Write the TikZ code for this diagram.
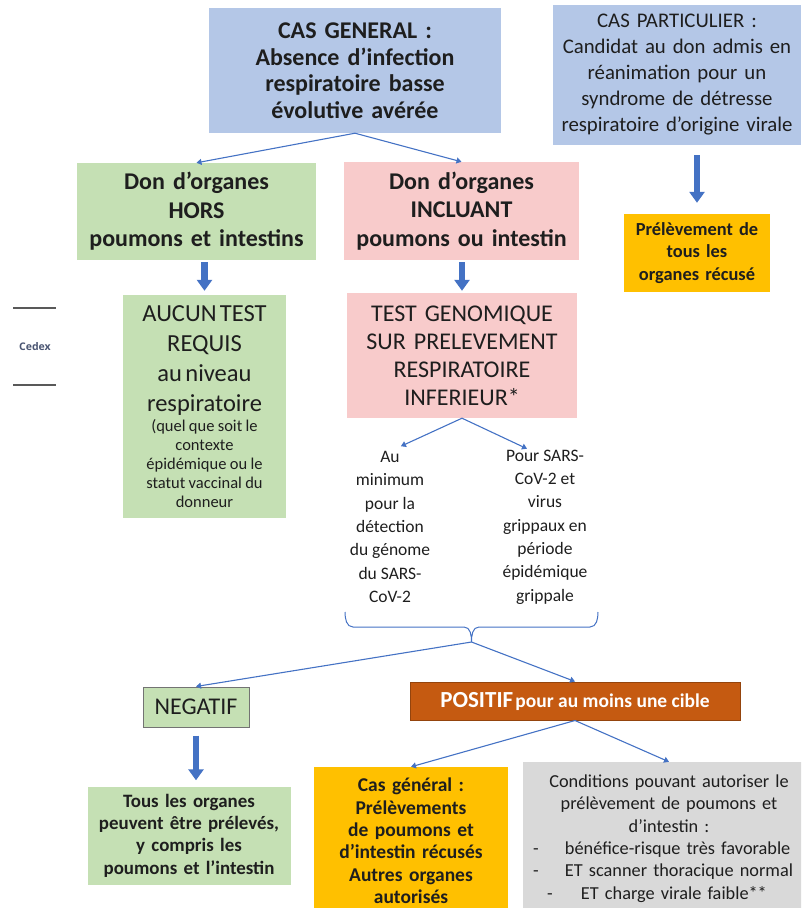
\documentclass[tikz,border=0pt]{standalone}
\usepackage{fontspec}
\setmainfont{Carlito}
\newfontfamily\cedexfont{Open Sans}
\usetikzlibrary{arrows.meta}
\definecolor{boxblue}{HTML}{B4C7E7}
\definecolor{boxgreen}{HTML}{C5E0B4}
\definecolor{boxpink}{HTML}{F8CBCB}
\definecolor{boxorange}{HTML}{FFC000}
\definecolor{boxgray}{HTML}{D9D9D9}
\definecolor{boxrust}{HTML}{C55A11}
\definecolor{linkblue}{HTML}{4472C4}
\definecolor{inkdark}{HTML}{1E1E1E}
\definecolor{cedexblue}{HTML}{4B5673}
\newcommand{\fsz}[2]{\fontsize{#1}{#2}\selectfont}

\begin{document}
\begin{tikzpicture}[x=1pt, y=-1pt,
    box/.style={rectangle, inner sep=0pt, align=center, text=inkdark},
    link/.style={linkblue, line width=1.1pt, -{Triangle[width=6pt,length=5pt]}},
    bigarrow/.style={linkblue, line width=6.5pt, -{Triangle[width=15pt,length=11pt]}}]
    \path[use as bounding box, clip] (0,0) rectangle (801,908);

    % top row
    \node[box, fill=boxblue, minimum width=292, minimum height=125, text width=292,
        font=\bfseries\fsz{24}{26.5}] at (355,70.5) (general)
        {CAS GENERAL :\\ Absence d’infection\\ respiratoire basse\\ évolutive avérée};
    \node[box, fill=boxblue, minimum width=248, minimum height=140, text width=248,
        font=\fsz{20.8}{26}] at (677,75) (partic)
        {CAS PARTICULIER :\\ Candidat au don admis en\\ réanimation pour un\\ syndrome de détresse\\ respiratoire d’origine virale};

    % second row
    \node[box, fill=boxgreen, minimum width=239, minimum height=97, text width=239,
        font=\bfseries\fsz{24}{28.5}] at (196.5,211.5) (hors)
        {Don d’organes\\ HORS\\ poumons et intestins};
    \node[box, fill=boxpink, minimum width=235, minimum height=98, text width=235,
        font=\bfseries\fsz{24}{28.5}] at (461.5,211) (incl)
        {Don d’organes\\ INCLUANT\\ poumons ou intestin};
    \node[box, fill=boxorange, minimum width=146, minimum height=78, text width=146,
        font=\bfseries\fsz{18.4}{22.5}] at (697,253) (recuse)
        {Prélèvement de\\ tous les\\ organes récusé};

    % tests
    \node[box, fill=boxgreen, minimum width=163, minimum height=223, text width=163] at (204.5,406.5) (aucun)
        {{\fsz{24.5}{30}AUCUN TEST\\ REQUIS\\ au niveau\\ respiratoire\par}\vspace{1pt}%
         {\fsz{16.5}{19}(quel que soit le\\ contexte\\ épidémique ou le\\ statut vaccinal du\\ donneur\par}};
    \node[box, fill=boxpink, minimum width=230, minimum height=125, text width=230,
        font=\fsz{24}{28}] at (462,355.5) (genom)
        {TEST GENOMIQUE\\ SUR PRELEVEMENT\\ RESPIRATOIRE\\ INFERIEUR*};
    \node[box, font=\fsz{17.5}{23.3}] at (390,527) (mini)
        {Au\\ minimum\\ pour la\\ détection\\ du génome\\ du SARS-\\ CoV-2};
    \node[box, font=\fsz{17.5}{23.3}] at (545,527) (grip)
        {Pour SARS-\\ CoV-2 et\\ virus\\ grippaux en\\ période\\ épidémique\\ grippale};

    % brace under the two targets
    \draw[linkblue, line width=1pt]
        (345,612) to[out=-90, in=180] (353,627) -- (464,627) to[out=0, in=90] (471.5,642)
        to[out=90, in=180] (479,627) -- (590,627) to[out=0, in=-90] (598,612);
    \coordinate (bracetip) at (471.5,642);

    % results
    \node[box, fill=boxgreen, draw=black!55, line width=1pt, minimum width=106, minimum height=40,
        font=\fsz{24}{26}] at (196,707) (neg) {NEGATIF};
    \node[box, fill=boxrust, draw=boxrust!75!black, line width=1pt, minimum width=330, minimum height=38,
        text=white, font=\bfseries] at (575,701) (pos)
        {{\fsz{23}{24}POSITIF} {\fsz{19.5}{22}pour au moins une cible}};

    \node[box, fill=boxgreen, minimum width=203, minimum height=98, text width=203,
        font=\bfseries\fsz{18.9}{22.3}] at (189,835.5) (tous)
        {Tous les organes\\ peuvent être prélevés,\\ y compris les\\ poumons et l’intestin};
    \node[box, fill=boxorange, minimum width=194, minimum height=148, text width=194,
        font=\bfseries\fsz{19.5}{22.4}] at (411,841) (casgen)
        {Cas général :\\ Prélèvements\\ de poumons et\\ d’intestin récusés\\ Autres organes\\ autorisés};
    \node[box, fill=boxgray, minimum width=292, minimum height=153, text width=292,
        font=\fsz{18.3}{22.4}] at (669,838.5) (cond)
        {Conditions pouvant autoriser le\\ prélèvement de poumons et\\ d’intestin :\par
         \raggedright
         \hspace*{10pt}\makebox[32pt][l]{-}bénéfice-risque très favorable\\
         \hspace*{10pt}\makebox[32pt][l]{-}ET scanner thoracique normal\\
         \hspace*{24pt}\makebox[34pt][l]{-}ET charge virale faible**\par};

    % left margin
    \draw[black!65, line width=1.2pt] (13,308) -- (56,308);
    \draw[black!65, line width=1.2pt] (13,385) -- (56,385);
    \node[text=cedexblue, font=\cedexfont\bfseries\fsz{10.5}{12}, inner sep=0pt] at (35,347) (cedex) {Cedex};

    % connectors
    \draw[link] (general.south) -- (hors.north);
    \draw[link] (general.south) -- (incl.north);
    \draw[bigarrow, shorten <=10pt, shorten >=11pt] (recuse.north |- partic.south) -- (recuse.north);
    \draw[bigarrow, shorten <=2pt, shorten >=4pt] (aucun.north |- hors.south) -- (aucun.north);
    \draw[bigarrow, shorten <=2pt, shorten >=2pt] (genom.north |- incl.south) -- (genom.north);
    \draw[link, shorten >=12pt] (genom.south) -- (mini.north);
    \draw[link] (genom.south) -- ([xshift=-18pt, yshift=1pt]grip.north);
    \draw[link] (bracetip) -- (neg.north);
    \draw[link] (bracetip) -- (pos.north);
    \draw[link] (pos.south) -- (casgen.north);
    \draw[link] (pos.south) -- (cond.north);
    \draw[bigarrow, shorten <=8pt, shorten >=6pt] (neg.south) -- (neg.south |- tous.north);
\end{tikzpicture}
\end{document}
